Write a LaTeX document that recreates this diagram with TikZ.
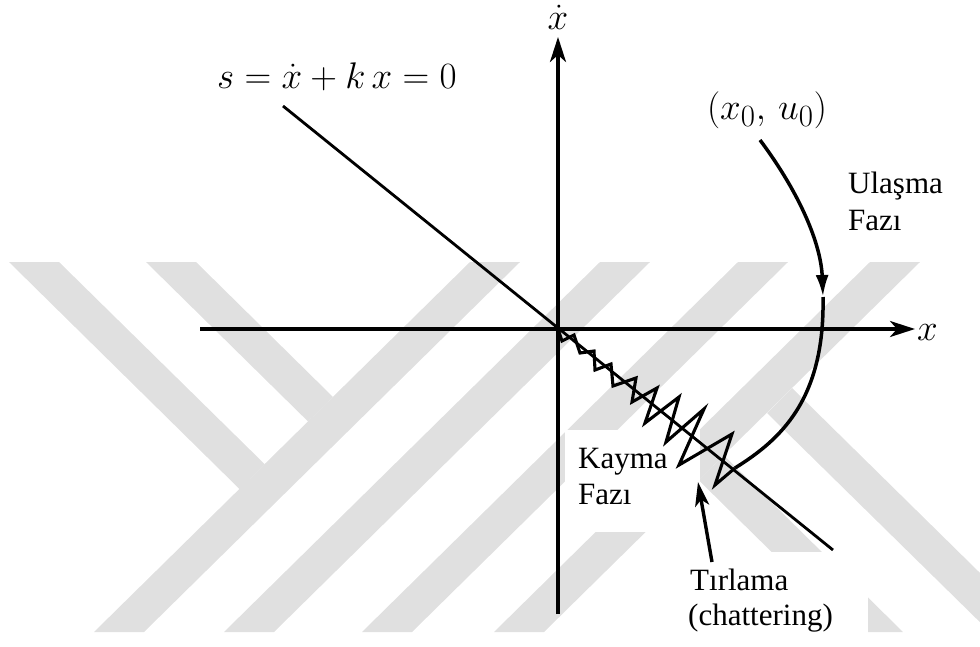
\documentclass[tikz,border=0pt]{standalone}
\usepackage{graphicx}
\usepackage{fontspec}
\setmainfont{Liberation Serif}
\usetikzlibrary{arrows.meta}
\definecolor{wm}{RGB}{224,224,224}
\newcommand{\bigmath}[1]{\scalebox{1.49}{$#1$}}
\begin{document}
\begin{tikzpicture}[x=1pt,y=-1pt,
  lbl/.style={font=\fontsize{31}{36}\selectfont, inner sep=0pt},
  mlbl/.style={font=\fontsize{24.88}{30}\selectfont, inner sep=0pt},
  axisline/.style={line width=3.4pt},
  sline/.style={line width=2.8pt},
  curveline/.style={line width=3.5pt},
  zigline/.style={line width=3.1pt, line join=miter, miter limit=6},
  ptrline/.style={line width=3.4pt},
  wmband/.style={fill=wm},
  labelbg/.style={fill=white}]
\useasboundingbox (0,0) rectangle (980,646);
% watermark
\begin{scope}
\clip (0,262) rectangle (980,632);
\fill[wmband] (470,262) -- (520,262) -- (144,632) -- (94,632) -- cycle;
\fill[wmband] (600,262) -- (650,262) -- (274,632) -- (224,632) -- cycle;
\fill[wmband] (738,262) -- (788,262) -- (412,632) -- (362,632) -- cycle;
\fill[wmband] (870,262) -- (920,262) -- (544,632) -- (494,632) -- cycle;
\fill[wmband] (9,262) -- (59,262) -- (264.5,464) -- (239.5,489) -- cycle;
\fill[wmband] (146,262) -- (196,262) -- (333,397) -- (308,421.4) -- cycle;
\fill[wmband] (767,413) -- (792,388) -- (1040,632) -- (990,632) -- cycle;
\fill[wmband] (698.5,480) -- (723.7,455.2) -- (903,632) -- (853,632) -- cycle;
\end{scope}
% white label backgrounds
\fill[labelbg] (565,430) rectangle (700,532);
\fill[labelbg] (684,552) rectangle (868,646);
% labels
\node[lbl,anchor=base west] (ula1) at (848,193) {Ulaşma};
\node[lbl,anchor=base west] (ula2) at (848,230) {Fazı};
\node[lbl,anchor=base west] (kay1) at (578,468) {Kayma};
\node[lbl,anchor=base west] (kay2) at (578,504) {Fazı};
\node[lbl,anchor=base west] (tir1) at (690,590) {Tırlama};
\node[lbl,anchor=base west] (tir2) at (688,625) {(chattering)};
\node[mlbl,anchor=base west] (seq) at (217,88) {\bigmath{s = \dot{x} + k\,x = 0}};
\node[mlbl,anchor=base] (xdot) at (558,29) {\bigmath{\dot{x}}};
\node[mlbl,anchor=base west] (xlab) at (917,340) {\bigmath{x}};
\node[mlbl,anchor=base] (x0u0) at (767,119) {\bigmath{(x_0,\,u_0)}};
% coordinates
\coordinate (O) at (558,329);
\coordinate (xs) at (200,329);
\coordinate (xe) at (915,329);
\coordinate (ys) at (558,614);
\coordinate (ye) at (558,37);
\coordinate (sA) at (283,106);
\coordinate (sB) at (833,550);
\coordinate (c0) at (760,140);
\coordinate (c1) at (823,297);
\coordinate (cE) at (735,468);
\coordinate (tA) at (712,562);
\coordinate (tB) at (698,482);
\coordinate (L9) at (715,485);
\coordinate (U8) at (732,434);
\coordinate (L8) at (679,465);
\coordinate (U7) at (704,409);
\coordinate (L7) at (666,442);
\coordinate (U6) at (679,397);
\coordinate (L6) at (645,423);
\coordinate (U5) at (657,388);
\coordinate (L5) at (632,402);
\coordinate (U4) at (636,378);
\coordinate (L4) at (613,386);
\coordinate (U3) at (611,364);
\coordinate (L3) at (595,370);
\coordinate (U2) at (594,351);
\coordinate (L2) at (580,353);
\coordinate (U1) at (574,335);
\coordinate (L1) at (562,341);
% axes
\draw[axisline,-{Stealth[length=25pt,width=16pt,inset=7pt]}] (xs) -- (xe);
\draw[axisline,-{Stealth[length=25pt,width=16pt,inset=7pt]}] (ys) -- (ye);
% sliding surface
\draw[sline] (sA) -- (sB);
% reaching phase
\draw[curveline,-{Latex[length=22pt,width=13pt]}] (c0) .. controls (801,195) and (821,245) .. (c1);
\draw[curveline] (c1) .. controls (825,400) and (780,440) .. (cE);
% chattering
\draw[zigline] (cE) -- (L9) -- (U8) -- (L8) -- (U7) -- (L7) -- (U6) -- (L6) -- (U5) -- (L5) -- (U4) -- (L4) -- (U3) -- (L3) -- (U2) -- (L2) -- (U1) -- (L1) -- (O);
% pointer
\draw[ptrline,-{Stealth[length=24pt,width=14pt,inset=6pt]}] (tA) -- (tB);
\end{tikzpicture}
\end{document}
